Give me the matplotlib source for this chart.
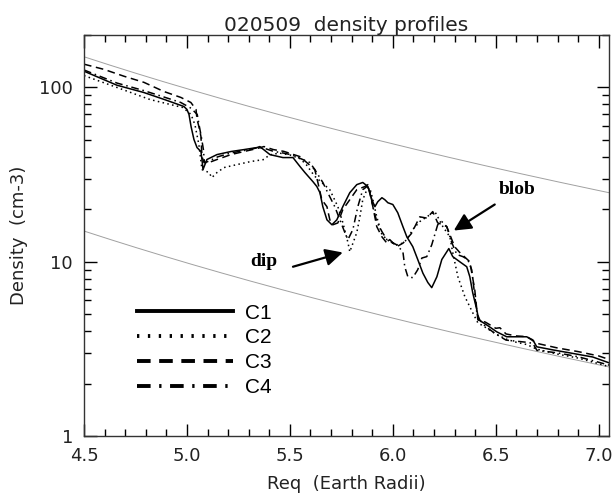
import matplotlib
matplotlib.use("Agg")
import matplotlib.pyplot as plt
from matplotlib.lines import Line2D
from matplotlib.ticker import MultipleLocator, FixedLocator, NullFormatter, LogLocator
import numpy as np

# ---------------- data ----------------
c1_x = [4.50, 4.58, 4.66, 4.79, 4.89, 4.985, 5.00, 5.01, 5.02, 5.034, 5.049, 5.068, 5.073, 5.078,
        5.097, 5.146, 5.214, 5.277, 5.34, 5.354, 5.403, 5.466, 5.515, 5.549, 5.573, 5.612, 5.631,
        5.646, 5.660, 5.680, 5.704, 5.728, 5.757, 5.791, 5.825, 5.854, 5.879, 5.898, 5.913, 5.927,
        5.947, 5.961, 5.976, 6.00, 6.024, 6.049, 6.068, 6.097, 6.121, 6.146, 6.170, 6.189, 6.214,
        6.238, 6.262, 6.272, 6.291, 6.325, 6.359, 6.374, 6.388, 6.408, 6.417, 6.456, 6.505, 6.553,
        6.602, 6.650, 6.680, 6.699, 6.777, 6.859, 6.971, 7.05]
c1_y = [124, 113, 103, 93.6, 85.3, 77.8, 74.8, 70, 59.7, 50.3, 45.2, 42.9, 38.6, 33.8,
        38.6, 41.2, 42.9, 44.0, 45.2, 45.8, 41.2, 39.6, 39.6, 35.2, 32.5, 28.8, 27.0,
        24.9, 20.7, 17.4, 16.3, 17.4, 20.7, 24.9, 27.7, 28.5, 27.0, 22.7, 20.7, 22.1,
        23.3, 22.7, 21.8, 21.3, 19.1, 15.9, 13.9, 12.2, 10.3, 8.6, 7.6, 7.1, 8.2,
        10.3, 11.4, 11.9, 10.7, 10.0, 9.36, 8.2, 6.64, 5.3, 4.64, 4.34, 3.96, 3.71,
        3.71, 3.71, 3.56, 3.25, 3.12, 3.0, 2.84, 2.63]

c2_x = [4.50, 4.66, 4.82, 4.98, 5.02, 5.039, 5.058, 5.073, 5.107, 5.121, 5.146, 5.18, 5.243,
        5.311, 5.374, 5.40, 5.45, 5.50, 5.55, 5.58, 5.62, 5.694, 5.733, 5.757, 5.782, 5.791,
        5.825, 5.84, 5.854, 5.874, 5.888, 5.903, 5.922, 5.947, 5.985, 6.019, 6.049, 6.068,
        6.097, 6.131, 6.165, 6.204, 6.218, 6.243, 6.277, 6.291, 6.316, 6.35, 6.388, 6.413,
        6.45, 6.50, 6.55, 6.60, 6.65, 6.70, 6.80, 6.90, 7.00, 7.05]
c2_y = [117, 100, 85.3, 76.7, 70, 61, 47, 33.8, 32.5, 30.4, 32.5, 34.7, 36.1,
        37.6, 38.6, 41, 42, 41, 39, 36, 31, 25.9, 20.7, 16.8, 12.9, 11.4,
        14.7, 18.1, 22.7, 25.9, 26.6, 22.7, 18.1, 14.3, 13.0, 12.5, 12.8, 13.4,
        15.3, 17.0, 18.1, 19.4, 18.1, 15.9, 13.9, 11.3, 8.2, 6.3, 5.1, 4.46,
        4.2, 3.85, 3.6, 3.45, 3.35, 3.15, 2.95, 2.8, 2.6, 2.5]

c3_x = [4.50, 4.597, 4.694, 4.791, 4.888, 4.971, 5.019, 5.044, 5.049, 5.058, 5.068, 5.073,
        5.083, 5.107, 5.146, 5.214, 5.277, 5.34, 5.374, 5.42, 5.47, 5.549, 5.621, 5.636,
        5.655, 5.680, 5.694, 5.709, 5.733, 5.757, 5.791, 5.825, 5.864, 5.879, 5.903, 5.922,
        5.947, 5.971, 5.985, 6.019, 6.05, 6.09, 6.131, 6.165, 6.194, 6.218, 6.243, 6.262,
        6.30, 6.325, 6.374, 6.398, 6.413, 6.45, 6.50, 6.52, 6.55, 6.60, 6.65, 6.70, 6.80,
        6.90, 7.00, 7.05]
c3_y = [136, 127, 116, 107, 94.8, 87.6, 82, 74.8, 65.5, 59.7, 52.3, 40.1,
        37.1, 37.1, 38.6, 41.2, 42.9, 44.6, 45.8, 44, 43, 40.1, 33.8, 28.5,
        22.7, 20.7, 17.4, 16.3, 16.7, 19.9, 22.7, 25.9, 27, 27.7, 20.7, 15.9,
        13.9, 12.8, 13.4, 12.2, 12.8, 14.5, 18.1, 17.8, 19.4, 16.7, 16.3, 15.9,
        12.2, 11.3, 10.0, 6.9, 4.64, 4.5, 4.15, 4.18, 3.85, 3.75, 3.72, 3.4, 3.2,
        3.05, 2.88, 2.75]

c4_x = [4.50, 4.66, 4.79, 4.89, 4.97, 5.02, 5.05, 5.06, 5.07, 5.08, 5.085, 5.10, 5.15, 5.21,
        5.28, 5.34, 5.37, 5.42, 5.47, 5.51, 5.597, 5.621, 5.660, 5.684, 5.718, 5.743, 5.767,
        5.782, 5.806, 5.830, 5.854, 5.874, 5.888, 5.903, 5.922, 5.947, 5.971, 6.019, 6.049,
        6.058, 6.073, 6.097, 6.121, 6.141, 6.165, 6.189, 6.218, 6.238, 6.262, 6.286, 6.311,
        6.34, 6.364, 6.383, 6.408, 6.422, 6.45, 6.50, 6.55, 6.60, 6.65, 6.68, 6.70, 6.80,
        6.90, 7.00, 7.05]
c4_y = [126, 106, 96, 88, 82, 76, 70, 60, 52, 44, 37, 37.5, 40, 42,
        43.5, 45, 45, 43, 42, 41, 37.1, 33.8, 28.5, 24.9, 20.7, 17.4, 14.7,
        13.4, 15.3, 20.7, 25.9, 27, 25.9, 20.7, 17, 14.9, 13.4, 12.5, 11.4,
        9.36, 8.2, 8.1, 9.0, 10.5, 10.7, 12.5, 16.3, 17.0, 15.9, 12.9, 11.0,
        10.7, 10.3, 9.0, 5.1, 4.64, 4.25, 3.85, 3.55, 3.5, 3.45, 3.4, 3.1, 3.0,
        2.85, 2.65, 2.55]

labels = ["C1", "C2", "C3", "C4"]
ref_L = 4.5
ref_upper = 150.0
ref_lower = 15.0

title = "020509  density profiles"
xlabel = "Req  (Earth Radii)"
ylabel = "Density  (cm-3)"
xticks = [4.5, 5.0, 5.5, 6.0, 6.5, 7.0]
xticklabels = ["4.5", "5.0", "5.5", "6.0", "6.5", "7.0"]
yticks = [1, 10, 100]
yticklabels = ["1", "10", "100"]

# ---------------- figure ----------------
fig = plt.figure(figsize=(6.14, 4.94), dpi=100)
ax = fig.add_axes([84/614, 58/494, 525/614, 401/494])

L = np.linspace(4.5, 7.05, 200)
ax.plot(L, ref_upper * (ref_L / L) ** 4, color="#a0a0a0", lw=0.7)
ax.plot(L, ref_lower * (ref_L / L) ** 4, color="#a0a0a0", lw=0.7)

styles = ["-", (0, (1, 2.2)), (0, (5, 3)), (0, (5, 2.5, 1, 2.5))]
series = [(c1_x, c1_y), (c2_x, c2_y), (c3_x, c3_y), (c4_x, c4_y)]
for (xs, ys), ls in zip(series, styles):
    ax.plot(xs, ys, color="black", lw=1.1, linestyle=ls)

ax.set_yscale("log")
ax.set_xlim(4.5, 7.05)
ax.set_ylim(1, 200)

ax.xaxis.set_major_locator(FixedLocator(xticks))
ax.set_xticklabels(xticklabels)
ax.xaxis.set_minor_locator(MultipleLocator(0.1))
ax.yaxis.set_major_locator(FixedLocator(yticks))
ax.set_yticklabels(yticklabels)
ax.yaxis.set_minor_locator(LogLocator(base=10, subs=np.arange(2, 10)))
ax.yaxis.set_minor_formatter(NullFormatter())

tfont = dict(family="DejaVu Sans", size=13)
for lab in ax.get_xticklabels() + ax.get_yticklabels():
    lab.set_fontfamily("DejaVu Sans")
    lab.set_fontsize(13)
    lab.set_color("#222222")

ax.tick_params(which="major", direction="in", length=9, width=1.0, top=True, right=True, pad=8)
ax.tick_params(which="minor", direction="in", length=5, width=1.0, top=True, right=True)
for s in ax.spines.values():
    s.set_linewidth(1.0)
    s.set_color("#333333")

ax.set_title(title, fontdict=dict(family="DejaVu Sans", size=14.5), pad=0.5, color="#222222")
ax.set_xlabel(xlabel, fontdict=tfont, labelpad=7, color="#222222")
ax.set_ylabel(ylabel, fontdict=tfont, labelpad=8, color="#222222")

# legend
handles = [Line2D([], [], color="black", lw=2.8, linestyle=ls) for ls in
           ["-", (0, (0.6, 2.2)), (0, (3.5, 2.2)), (0, (3.5, 2.2, 0.6, 2.2))]]
leg = ax.legend(handles, labels, loc="upper left", bbox_to_anchor=(0.065, 0.377),
                frameon=False, handlelength=4.6, handletextpad=0.6, labelspacing=0.28,
                prop=dict(family="Liberation Sans", size=15))

# annotations
ann_font = dict(fontsize=14, fontweight="bold", family="Liberation Serif")
ax.text(5.374, 10.0, "dip", ha="center", va="center", **ann_font)
ax.annotate("", xy=(5.757, 11.3), xytext=(5.515, 9.36),
            arrowprops=dict(arrowstyle="-|>", color="black", lw=1.6, mutation_scale=26,
                            shrinkA=0, shrinkB=0))
ax.text(6.602, 25.9, "blob", ha="center", va="center", **ann_font)
ax.annotate("", xy=(6.296, 15.1), xytext=(6.495, 21.3),
            arrowprops=dict(arrowstyle="-|>", color="black", lw=1.6, mutation_scale=26,
                            shrinkA=0, shrinkB=0))

fig.savefig("out.png", dpi=100)
